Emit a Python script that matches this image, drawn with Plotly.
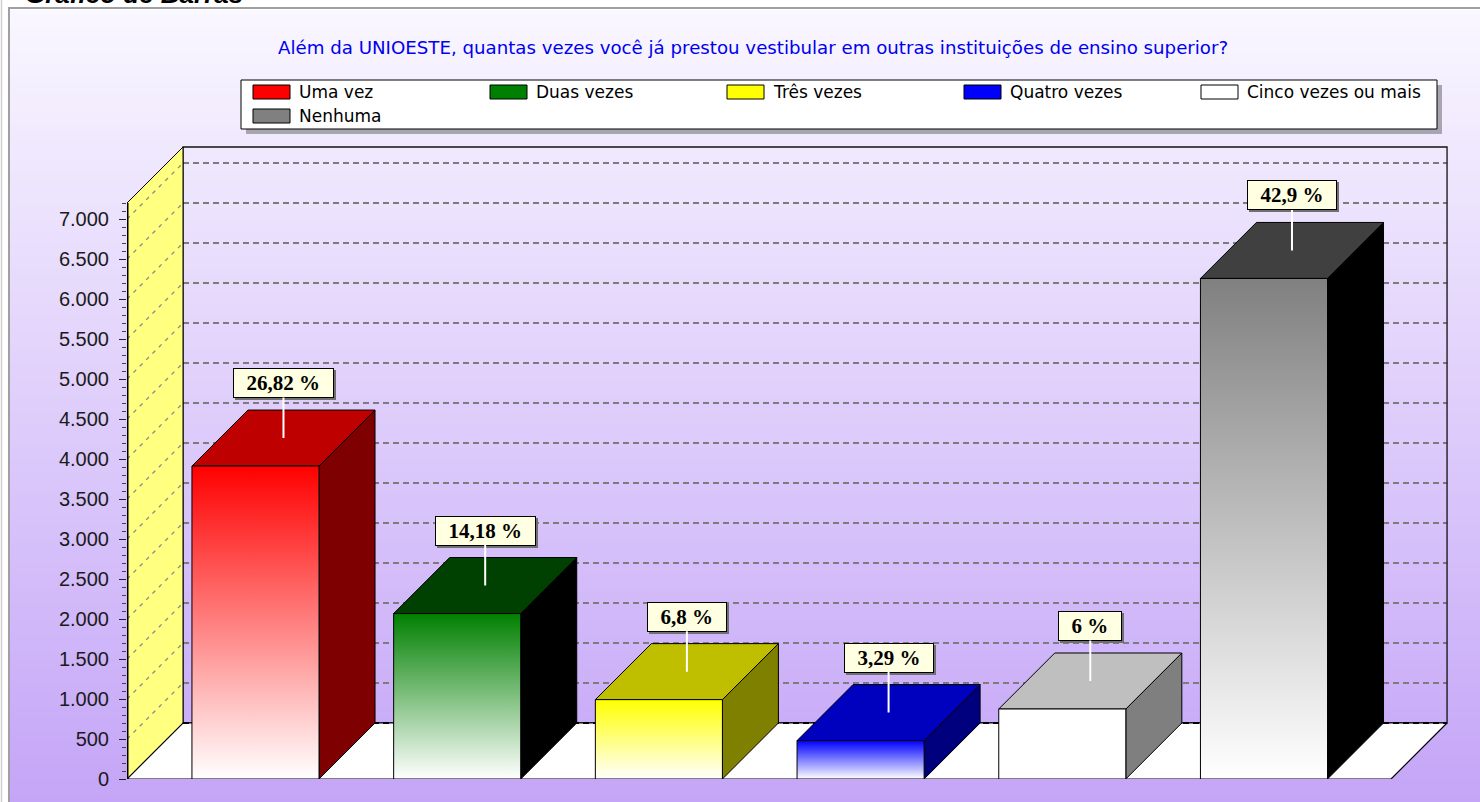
import plotly.graph_objects as go

# ---------------- data ----------------
categories = ["Uma vez", "Duas vezes", "Três vezes", "Quatro vezes", "Cinco vezes ou mais", "Nenhuma"]
values = [3912, 2068, 992, 480, 875, 6257]
pct_labels = ["26,82 %", "14,18 %", "6,8 %", "3,29 %", "6 %", "42,9 %"]
front_colors = ["#FF0000", "#008000", "#FFFF00", "#0000FF", "#FFFFFF", "#808080"]
top_colors = ["#BF0000", "#004000", "#BFBF00", "#0000BF", "#BFBFBF", "#404040"]
side_colors = ["#7F0000", "#000000", "#7F7F00", "#00007F", "#7F7F7F", "#000000"]
y_tick_vals = [0, 500, 1000, 1500, 2000, 2500, 3000, 3500, 4000, 4500, 5000, 5500, 6000, 6500, 7000]
y_tick_text = ["0", "500", "1.000", "1.500", "2.000", "2.500", "3.000", "3.500", "4.000",
               "4.500", "5.000", "5.500", "6.000", "6.500", "7.000"]
chart_title = "Além da UNIOESTE, quantas vezes você já prestou vestibular em outras instituições de ensino superior?"
header_text = "Gráfico de Barras"

# ---------------- geometry ----------------
W, H = 1480, 802
ML, MR, MT, MB = 127, 28, 142, 23
PW, PH = W - ML - MR, H - MT - MB
PX_PER_CAT = 201.7
PX_PER_UNIT = 0.08
X_MIN = -0.637
X_MAX = X_MIN + PW / PX_PER_CAT
Y_MAX = PH / PX_PER_UNIT
BAR_W = 0.63
DX = 56 / PX_PER_CAT
DY = 56 / PX_PER_UNIT
WALL_TOP = 7200
FLOOR_R = 5.63
X_BACK_L = X_MIN + DX
X_BACK_R = FLOOR_R + DX


def pxx(px):
    return (px - ML) / PW


def pxy(py):
    return (H - MB - py) / PH


fig = go.Figure()


def poly(xs, ys, fill=None, line_color="black", line_width=1, dash=None, grad=None):
    kw = dict(x=xs, y=ys, mode="lines", hoverinfo="skip", showlegend=False, cliponaxis=False,
              line=dict(color=line_color, width=line_width))
    if dash:
        kw["line"]["dash"] = dash
    if fill is not None or grad is not None:
        kw["fill"] = "toself"
        if fill is not None:
            kw["fillcolor"] = fill
        if grad is not None:
            kw["fillgradient"] = grad
    fig.add_trace(go.Scatter(**kw))


# back wall gridlines
gx, gy = [], []
for v in y_tick_vals[1:]:
    gx += [X_BACK_L, X_BACK_R, None]
    gy += [v + DY, v + DY, None]
poly(gx, gy, line_color="#7C7C7C", line_width=2, dash="6px,4px")

# back wall outline
poly([X_BACK_L, X_BACK_R, X_BACK_R, X_BACK_L, X_BACK_L],
     [DY, DY, WALL_TOP + DY, WALL_TOP + DY, DY], line_color="#111", line_width=1.3)

# side wall
poly([X_MIN, X_BACK_L, X_BACK_L, X_MIN, X_MIN], [0, DY, WALL_TOP + DY, WALL_TOP, 0],
     fill="#FFFF80", line_color="black", line_width=1)
sx, sy = [], []
for v in y_tick_vals[1:]:
    sx += [X_MIN, X_BACK_L, None]
    sy += [v, v + DY, None]
poly(sx, sy, line_color="#8C8C8C", line_width=1.3, dash="4px,5px")

# floor
poly([X_MIN, FLOOR_R, X_BACK_R, X_BACK_L, X_MIN], [0, 0, DY, DY, 0],
     fill="#FFFFFF", line_color="black", line_width=1.2)
poly([X_BACK_L, X_BACK_R], [DY, DY], line_color="black", line_width=2, dash="6px,4px")

# front axis line
poly([X_MIN, X_MIN], [0, WALL_TOP], line_color="black", line_width=3)

# bars
for i, v in enumerate(values):
    l, r = i - BAR_W / 2, i + BAR_W / 2
    poly([r, r + DX, r + DX, r, r], [0, DY, v + DY, v, 0], fill=side_colors[i])
    poly([l, l + DX, r + DX, r, l], [v, v + DY, v + DY, v, v], fill=top_colors[i])
    poly([l, r, r, l, l], [0, 0, v, v, 0],
         grad=dict(type="vertical", colorscale=[[0, "#FFFFFF"], [1, front_colors[i]]]))

# ---------------- decorations ----------------
shapes = []
# background gradient
top_rgb = (249, 247, 255)
bot_rgb = (196, 164, 247)
y_start, y_end, step = 10, 806, 6
py = y_start
while py < y_end:
    t = (py - y_start) / (y_end - y_start)
    c = tuple(round(top_rgb[k] + (bot_rgb[k] - top_rgb[k]) * t) for k in range(3))
    shapes.append(dict(type="rect", xref="paper", yref="paper", layer="below",
                       x0=pxx(10), x1=pxx(1500), y0=pxy(py + step + 0.5), y1=pxy(py),
                       fillcolor="rgb(%d,%d,%d)" % c, line=dict(width=0)))
    py += step
# frame
shapes.append(dict(type="rect", xref="paper", yref="paper", layer="below",
                   x0=pxx(9), x1=pxx(1500), y0=pxy(830), y1=pxy(8),
                   fillcolor="rgba(0,0,0,0)", line=dict(color="#A0A0A0", width=2)))
shapes.append(dict(type="line", xref="paper", yref="paper", layer="below",
                   x0=pxx(1.5), x1=pxx(1.5), y0=pxy(0), y1=pxy(830),
                   line=dict(color="#D0D0D0", width=1.5)))
# legend box
shapes.append(dict(type="rect", xref="paper", yref="paper", layer="above",
                   x0=pxx(246), x1=pxx(1442), y0=pxy(134), y1=pxy(85),
                   fillcolor="#A8A4B0", line=dict(width=0)))
shapes.append(dict(type="rect", xref="paper", yref="paper", layer="above",
                   x0=pxx(241), x1=pxx(1437), y0=pxy(129), y1=pxy(80),
                   fillcolor="#FFFFFF", line=dict(color="black", width=1)))

annotations = []
for i, name in enumerate(categories):
    col, row = (i, 0) if i < 5 else (0, 1)
    cx = 253 + col * 237
    cy = 92 + row * 24
    shapes.append(dict(type="rect", xref="paper", yref="paper", layer="above",
                       x0=pxx(cx), x1=pxx(cx + 37), y0=pxy(cy + 7), y1=pxy(cy - 7),
                       fillcolor=front_colors[i], line=dict(color="black", width=1)))
    annotations.append(dict(xref="paper", yref="paper", x=pxx(cx + 44), y=pxy(cy),
                            xanchor="left", yanchor="middle", showarrow=False, text=name,
                            font=dict(family="DejaVu Sans", size=17, color="black")))

annotations.append(dict(xref="paper", yref="paper", x=pxx(753), y=pxy(48), xanchor="center",
                        yanchor="middle", showarrow=False, text=chart_title,
                        font=dict(family="DejaVu Sans", size=18.2, color="#0000F0")))
annotations.append(dict(xref="paper", yref="paper", x=pxx(24), y=pxy(10), xanchor="left",
                        yanchor="bottom", showarrow=False, borderpad=0,
                        text="<b><i>%s</i></b>" % header_text,
                        font=dict(family="Liberation Sans", size=26, color="black")))

# value labels
NB = "\u00a0\u00a0"
for i, v in enumerate(values):
    base = dict(xref="x", yref="y", x=i + DX / 2, y=v + DY / 2, ax=0, ay=-55,
                showarrow=True, arrowhead=0, arrowwidth=2, standoff=0, borderpad=2,
                borderwidth=1, text="<b>" + NB + pct_labels[i] + NB + "</b>")
    shadow = dict(base, xshift=2, yshift=-2, arrowcolor="rgba(0,0,0,0)", bgcolor="#707070",
                  bordercolor="#707070",
                  font=dict(family="Liberation Serif", size=21, color="#707070"))
    label = dict(base, arrowcolor="white", bgcolor="#FFFFE1", bordercolor="black",
                 font=dict(family="Liberation Serif", size=21, color="black"))
    annotations.append(shadow)
    annotations.append(label)

minor_vals = [m for m in range(0, 7201, 100) if m % 500 != 0]

fig.update_layout(
    width=W, height=H,
    margin=dict(l=ML, r=MR, t=MT, b=MB, pad=0),
    paper_bgcolor="white", plot_bgcolor="rgba(0,0,0,0)",
    showlegend=False,
    xaxis=dict(range=[X_MIN, X_MAX], visible=False, fixedrange=True),
    yaxis=dict(range=[0, Y_MAX], tickmode="array", tickvals=y_tick_vals, ticktext=y_tick_text,
               ticks="outside", ticklen=7, tickwidth=1, tickcolor="#222",
               showgrid=False, zeroline=False, showline=False, fixedrange=True,
               ticklabelstandoff=6,
               tickfont=dict(family="Liberation Sans", size=20, color="#1A1A1A"),
               minor=dict(tickmode="array", tickvals=minor_vals, ticks="outside", ticklen=4,
                          tickcolor="#444", tickwidth=1, showgrid=False)),
    shapes=shapes,
    annotations=annotations,
)

fig.write_html("out.html", config={"displayModeBar": False},
               post_script="document.body.style.margin='0';document.body.style.overflow='hidden';")
